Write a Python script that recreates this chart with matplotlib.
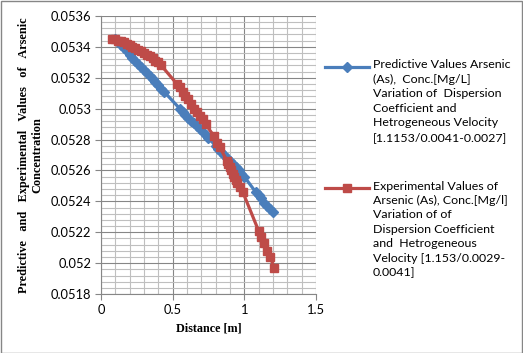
import matplotlib.pyplot as plt
from matplotlib.ticker import MultipleLocator
from matplotlib.patches import Rectangle
from matplotlib.lines import Line2D

# ---------------- data ----------------
pred_x = [0.10, 0.12, 0.14, 0.16, 0.18, 0.20, 0.22, 0.24, 0.26, 0.28, 0.30, 0.32,
          0.34, 0.36, 0.38, 0.40, 0.42, 0.44, 0.55, 0.57, 0.59, 0.61, 0.63, 0.65,
          0.67, 0.69, 0.71, 0.73, 0.75, 0.80, 0.82, 0.84, 0.86, 0.88, 0.90, 0.92,
          0.94, 0.96, 0.98, 1.00, 1.08, 1.10, 1.12, 1.14, 1.16, 1.18, 1.20]
pred_y = [0.05345, 0.05343, 0.05341, 0.05339, 0.05337, 0.05335, 0.05333, 0.05331,
          0.05329, 0.05327, 0.05325, 0.05323, 0.05321, 0.05319, 0.05317, 0.05315,
          0.05313, 0.05311, 0.05300, 0.05298, 0.05296, 0.05294, 0.05292, 0.05291,
          0.05289, 0.05287, 0.05285, 0.05283, 0.05281, 0.05276, 0.05274, 0.05272,
          0.05270, 0.05268, 0.05266, 0.05264, 0.05262, 0.05260, 0.05258, 0.05256,
          0.05246, 0.05244, 0.05242, 0.05239, 0.05237, 0.05235, 0.05233]

exp_x = [0.08, 0.10, 0.12, 0.14, 0.16, 0.18, 0.20, 0.22, 0.24, 0.26, 0.28, 0.30,
         0.32, 0.34, 0.36, 0.38, 0.40, 0.42, 0.53, 0.55, 0.57, 0.59, 0.61, 0.63,
         0.65, 0.67, 0.69, 0.71, 0.73, 0.79, 0.81, 0.83, 0.88, 0.89, 0.90, 0.91,
         0.92, 0.93, 0.94, 0.95, 0.97, 0.99, 1.10, 1.12, 1.14, 1.16, 1.18, 1.21]
exp_y = [0.05345, 0.05345, 0.05344, 0.05344, 0.05343, 0.05342, 0.05341, 0.05340,
         0.05339, 0.05338, 0.05337, 0.05336, 0.05335, 0.05334, 0.05333, 0.05331,
         0.05330, 0.05328, 0.05316, 0.05314, 0.05311, 0.05308, 0.05306, 0.05303,
         0.05300, 0.05298, 0.05295, 0.05293, 0.05290, 0.05282, 0.05278, 0.05275,
         0.05266, 0.05264, 0.05262, 0.05260, 0.05258, 0.05256, 0.05254, 0.05252,
         0.05249, 0.05246, 0.05221, 0.05217, 0.05213, 0.05208, 0.05204, 0.05197]

pred_label = ("Predictive Values Arsenic\n(As),  Conc.[Mg/L]\nVariation of  Dispersion\n"
              "Coefficient and\nHetrogeneous Velocity\n[1.1153/0.0041-0.0027]")
exp_label = ("Experimental Values of\nArsenic (As), Conc.[Mg/l]\nVariation of of\n"
             "Dispersion Coefficient\nand  Hetrogeneous\nVelocity [1.153/0.0029-\n0.0041]")

x_ticks = [0, 0.5, 1, 1.5]
x_tick_labels = ["0", "0.5", "1", "1.5"]
y_ticks = [0.0518, 0.052, 0.0522, 0.0524, 0.0526, 0.0528, 0.053, 0.0532, 0.0534, 0.0536]
y_tick_labels = ["0.0518", "0.052", "0.0522", "0.0524", "0.0526", "0.0528",
                 "0.053", "0.0532", "0.0534", "0.0536"]

blue = "#4A7EBB"
red = "#BE4B48"

# ---------------- plot ----------------
fig = plt.figure(figsize=(5.23, 3.53), dpi=100)
ax = fig.add_axes([0.193, 0.167, 0.411, 0.788])

ax.plot(pred_x, pred_y, color=blue, lw=2.3, marker="D", ms=5, mec=blue, mfc=blue, zorder=3)
ax.plot(exp_x, exp_y, color=red, lw=2.3, marker="s", ms=5.5, mec=red, mfc=red, zorder=4)

ax.set_xlim(0, 1.5)
ax.set_ylim(0.0518, 0.0536)
ax.set_xticks(x_ticks)
ax.set_xticklabels(x_tick_labels)
ax.set_yticks(y_ticks)
ax.set_yticklabels(y_tick_labels)
ax.xaxis.set_minor_locator(MultipleLocator(0.1))
ax.yaxis.set_minor_locator(MultipleLocator(0.00004))
ax.grid(which="minor", color="#BFBFBF", lw=0.8)
ax.grid(which="major", color="#868686", lw=0.8)
ax.set_axisbelow(True)
ax.tick_params(which="minor", length=0)
ax.tick_params(which="major", length=4, color="#868686", labelsize=9.3, pad=3)
for lab in ax.get_xticklabels() + ax.get_yticklabels():
    lab.set_family("Lato")
for side in ["top", "right"]:
    ax.spines[side].set_visible(False)
for side in ["left", "bottom"]:
    ax.spines[side].set_color("#868686")

ax.set_xlabel("Distance [m]", family="Liberation Serif", weight="bold", fontsize=8.7, labelpad=5)
ax.set_ylabel("Predictive   and   Experimental   Values   of   Arsenic\nConcentration",
              family="Liberation Serif", weight="bold", fontsize=8.8, labelpad=5,
              linespacing=1.15)

# legend drawn by hand so the key sits on the first line of each label, as in Excel
W, H = 523.0, 353.0
for label, color, mk, ms, ykey in [(pred_label, blue, "D", 5, 67),
                                    (exp_label, red, "s", 5.5, 188)]:
    y = 1 - ykey / H
    fig.add_artist(Line2D([325 / W, 347 / W, 369 / W], [y, y, y], color=color, lw=2.3,
                          marker=mk, ms=ms, mfc=color, mec=color, markevery=[1],
                          transform=fig.transFigure))
    fig.text(373 / W, y + 7.5 / H, label, family="Lato", fontsize=8.9, va="top",
             ha="left", linespacing=1.38, transform=fig.transFigure)

fig.patches.append(Rectangle((0.001, 0.001), 0.997, 0.997, transform=fig.transFigure,
                             fill=False, edgecolor="#868686", lw=1))

fig.savefig("out.png", dpi=100)
